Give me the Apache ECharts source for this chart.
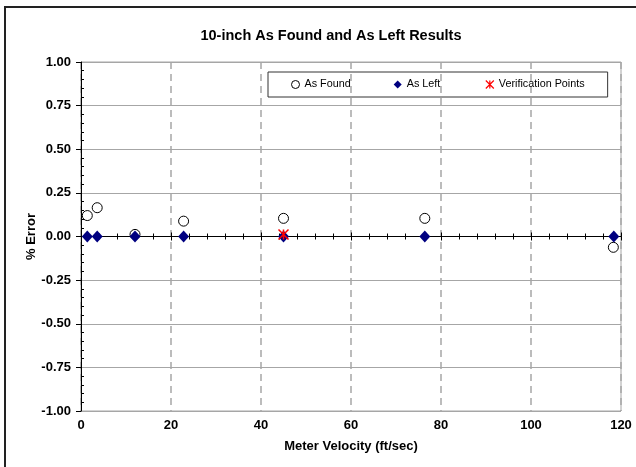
<!DOCTYPE html>
<html>
<head>
<meta charset="utf-8">
<script src="https://cdn.jsdelivr.net/npm/echarts@6/dist/echarts.min.js"></script>
<style>html,body{margin:0;padding:0;background:#fff}#c{width:636px;height:467px}</style>
</head>
<body>
<div id="c"></div>
<script>
const titleText = '10-inch As Found and As Left Results';
const xName = 'Meter Velocity (ft/sec)';
const yName = '% Error';
const asFoundX = [1.4, 3.6, 12.0, 22.8, 45.0, 76.4, 118.3];
const asFoundY = [0.12, 0.165, 0.012, 0.088, 0.104, 0.104, -0.062];
const asLeftX = [1.4, 3.6, 12.0, 22.8, 45.0, 76.4, 118.4];
const asLeftY = [0, 0, 0, 0, 0, 0, 0];
const verifX = [45.0];
const verifY = [0.012];

const FONT = "'Liberation Sans', Arial, sans-serif";
const GRID = '#a6a6a6';
const pairs = (xs, ys) => xs.map((x, i) => [x, ys[i]]);
const STAR = 'path://M0,0L10,10M10,0L0,10M5,0L5,10';

const chart = echarts.init(document.getElementById('c'), null, {renderer: 'canvas'});
const xBase = {type: 'value', min: 0, max: 120, interval: 20, gridIndex: 0};
chart.setOption({
  animation: false,
  backgroundColor: '#fff',
  textStyle: {fontFamily: FONT},
  graphic: [{
    type: 'rect', shape: {x: 5, y: 7, width: 700, height: 520},
    style: {fill: 'none', stroke: '#222', lineWidth: 2}, silent: true, z: 100
  }],
  title: {
    text: titleText, left: 326, top: 23, textAlign: 'center',
    textStyle: {fontFamily: FONT, fontWeight: 'bold', fontSize: 14.5, color: '#000'}
  },
  legend: {
    left: 268, top: 72, orient: 'horizontal',
    padding: [6, 23, 6, 23], borderColor: '#333', borderWidth: 1,
    itemWidth: 8, itemHeight: 8, itemGap: 43,
    textStyle: {fontFamily: FONT, fontSize: 10.8, color: '#000'},
    data: [
      {name: 'As Found', itemStyle: {borderWidth: 1}},
      {name: 'As Left'},
      {name: 'Verification Points', itemStyle: {borderWidth: 1.2}}
    ]
  },
  grid: {left: 81, right: 15, top: 62, bottom: 56, show: true, borderColor: GRID, borderWidth: 1, containLabel: false},
  xAxis: [
    Object.assign({}, xBase, {
      position: 'bottom',
      name: xName, nameLocation: 'middle', nameGap: 29,
      nameTextStyle: {fontFamily: FONT, fontWeight: 'bold', fontSize: 13, color: '#000'},
      axisLine: {show: false, onZero: false},
      axisTick: {show: false},
      axisLabel: {margin: 8, fontFamily: FONT, fontWeight: 'bold', fontSize: 13, color: '#000'},
      splitLine: {show: true, lineStyle: {color: GRID, width: 1.5, type: [7, 5]}}
    }),
    Object.assign({}, xBase, {
      position: 'bottom',
      axisLine: {show: true, onZero: true, lineStyle: {color: '#000', width: 1}},
      axisTick: {show: true, inside: false, length: 4, lineStyle: {color: '#000'}},
      minorTick: {show: true, splitNumber: 5, length: 3, lineStyle: {color: '#000'}},
      axisLabel: {show: false}, splitLine: {show: false}
    }),
    Object.assign({}, xBase, {
      position: 'top',
      axisLine: {show: true, onZero: true, lineStyle: {color: '#000', width: 1}},
      axisTick: {show: true, inside: false, length: 4, lineStyle: {color: '#000'}},
      minorTick: {show: true, splitNumber: 5, length: 3, lineStyle: {color: '#000'}},
      axisLabel: {show: false}, splitLine: {show: false}
    })
  ],
  yAxis: [
    {
      type: 'value', min: -1, max: 1, interval: 0.25, position: 'left',
      name: yName, nameLocation: 'middle', nameGap: 43, nameRotate: 90, nameMoveOverlap: false,
      nameTextStyle: {fontFamily: FONT, fontWeight: 'bold', fontSize: 13, color: '#000'},
      axisLine: {show: true, onZero: false, lineStyle: {color: '#000', width: 1}},
      axisTick: {show: true, inside: false, length: 5, lineStyle: {color: '#000'}},
      axisLabel: {margin: 10, fontFamily: FONT, fontWeight: 'bold', fontSize: 13, color: '#000',
        formatter: v => v.toFixed(2)},
      splitLine: {show: true, lineStyle: {color: GRID, width: 1}}
    },
    {
      type: 'value', min: -1, max: 1, interval: 0.25, position: 'right', offset: -540,
      axisLine: {show: false, onZero: false},
      axisTick: {show: false},
      minorTick: {show: true, splitNumber: 5, length: 3, lineStyle: {color: '#000'}},
      axisLabel: {show: false}, splitLine: {show: false}
    }
  ],
  series: [
    {
      name: 'As Found', type: 'scatter', xAxisIndex: 0, yAxisIndex: 0,
      symbol: 'circle', symbolSize: 10,
      itemStyle: {color: '#fff', borderColor: '#000', borderWidth: 1, opacity: 1},
      data: pairs(asFoundX, asFoundY), z: 3
    },
    {
      name: 'As Left', type: 'scatter', xAxisIndex: 0, yAxisIndex: 0,
      symbol: 'diamond', symbolSize: [11, 12],
      itemStyle: {color: '#000080', opacity: 1},
      data: pairs(asLeftX, asLeftY), z: 4
    },
    {
      name: 'Verification Points', type: 'scatter', xAxisIndex: 0, yAxisIndex: 0,
      symbol: STAR, symbolSize: 10,
      itemStyle: {color: 'none', borderColor: '#ff0000', borderWidth: 1.5, opacity: 1},
      data: pairs(verifX, verifY), z: 5
    }
  ]
});
</script>
</body>
</html>
